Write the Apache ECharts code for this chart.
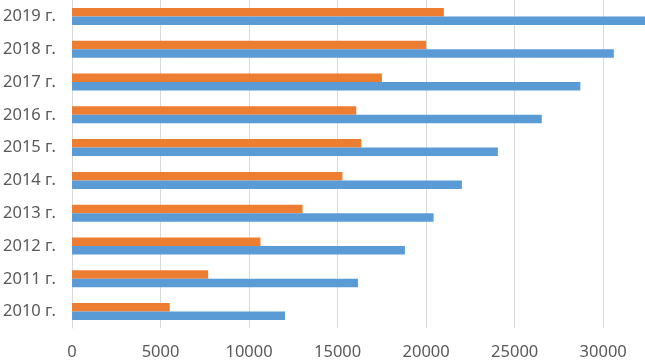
<!DOCTYPE html>
<html>
<head>
<meta charset="utf-8">
<script src="https://cdn.jsdelivr.net/npm/echarts@6/dist/echarts.min.js"></script>
<style>
  html, body { margin: 0; padding: 0; background: #fff; }
  #chart { width: 645px; height: 361px; }
</style>
</head>
<body>
<div id="chart"></div>
<script>
// годы снизу вверх
var years = ["2010 г.", "2011 г.", "2012 г.", "2013 г.", "2014 г.", "2015 г.", "2016 г.", "2017 г.", "2018 г.", "2019 г."];
var orangeValues = [5520, 7690, 10640, 13020, 15270, 16340, 16050, 17500, 20000, 21000];
var blueValues = [12030, 16150, 18800, 20420, 22020, 24050, 26530, 28710, 30600, 32500];
var xTicks = [0, 5000, 10000, 15000, 20000, 25000, 30000];

var chart = echarts.init(document.getElementById("chart"));

var textColor = "#595959";
var gridColor = "#d9d9d9";

var option = {
  animation: false,
  grid: {
    left: 71.5,
    right: 0,
    top: -1,
    bottom: 30.5,
    containLabel: false
  },
  xAxis: {
    type: "value",
    min: 0,
    max: 32360,
    interval: 5000,
    axisLine: { show: false },
    axisTick: { show: false },
    splitLine: { show: true, lineStyle: { color: gridColor, width: 1 } },
    axisLabel: {
      color: textColor,
      fontFamily: "Noto Sans",
      fontSize: 16.5,
      margin: 16,
      showMaxLabel: false,
      formatter: function (v) {
        return xTicks.indexOf(v) >= 0 ? String(v) : "";
      }
    }
  },
  yAxis: {
    type: "category",
    data: years,
    axisLine: { show: true, lineStyle: { color: gridColor, width: 1 } },
    axisTick: { show: false },
    axisLabel: {
      color: textColor,
      fontFamily: "Noto Sans",
      fontSize: 16.5,
      margin: 16
    }
  },
  series: [
    {
      name: "orange",
      type: "bar",
      data: orangeValues,
      barWidth: 8.5,
      barGap: "0%",
      itemStyle: { color: "#ED7D31" }
    },
    {
      name: "blue",
      type: "bar",
      data: blueValues,
      barWidth: 8.5,
      barGap: "0%",
      itemStyle: { color: "#5B9BD5" }
    }
  ]
};

chart.setOption(option);
window.addEventListener("resize", function () {
  chart.resize();
});
</script>
</body>
</html>
